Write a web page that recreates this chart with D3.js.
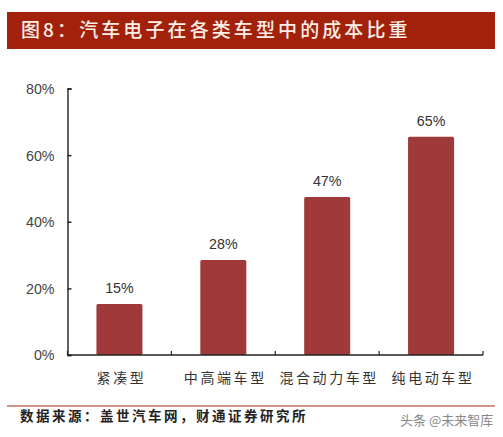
<!DOCTYPE html>
<html>
<head>
<meta charset="utf-8">
<script src="https://cdn.jsdelivr.net/npm/d3@7"></script>
<style>
  html,body{margin:0;padding:0;background:#fff;}
  svg{display:block;}
  .cn{font-family:"Noto Sans CJK SC";}
  .num{font-family:"Liberation Sans",Arial,sans-serif;}
</style>
</head>
<body>
<div id="chart"></div>
<script>
var categories = ['紧凑型','中高端车型','混合动力车型','纯电动车型'];
var shares = [15,28,47,65];
var barHeights = [15.3,28.5,47.4,65.5]; //bars run a touch above their printed label
var yTicks = [0,20,40,60,80];
var titleText = '图8：汽车电子在各类车型中的成本比重';
var sourceText = '数据来源：盖世汽车网，财通证券研究所';
var markText = '头条 @未来智库';

var W = 503, H = 437;
var m = {t:88.5,r:20,b:82,l:67.5};

var svg = d3.select('#chart').append('svg').attr('width',W).attr('height',H);

//Numbers in the reference are slightly squeezed sideways
function squeeze(sel){
  sel.attr('textLength',function(){return this.getComputedTextLength()*0.92;})
     .attr('lengthAdjust','spacingAndGlyphs');
}

//Title band
svg.append('rect').attr('x',7).attr('y',12).attr('width',488).attr('height',37).attr('fill','#a1210a');
svg.append('text').attr('class','cn')
    .attr('x',21).attr('y',37)
    .attr('fill','#fbeee6').attr('font-size',19).attr('font-weight',500)
    .attr('letter-spacing',3.1)
    .text(titleText);

//Scales
var scaleX = d3.scaleBand().domain(categories).range([m.l,W-m.r]).paddingInner(0.557).paddingOuter(0.2785);
var scaleY = d3.scaleLinear().domain([0,80]).range([H-m.b,m.t]);

//Bars
svg.selectAll('.bar').data(barHeights).enter().append('rect').attr('class','bar')
    .attr('x',function(d,i){return scaleX(categories[i]);})
    .attr('y',function(d){return scaleY(d);})
    .attr('width',scaleX.bandwidth())
    .attr('height',function(d){return scaleY(0)-scaleY(d);})
    .attr('rx',1.5)
    .attr('fill','#a03a3a');

//Value labels
svg.selectAll('.val').data(shares).enter().append('text').attr('class','val num')
    .attr('x',function(d,i){return scaleX(categories[i])+scaleX.bandwidth()/2;})
    .attr('y',function(d,i){return scaleY(barHeights[i])-11;})
    .attr('text-anchor','middle').attr('font-size',15.5).attr('fill','#333')
    .text(function(d){return d+'%';})
    .call(squeeze);

//Axis Y
var axisY = d3.axisLeft(scaleY).tickValues(yTicks).tickSize(-4).tickSizeOuter(-4).tickPadding(13)
    .tickFormat(function(d){return d+'%';});
var yNode = svg.append('g').attr('transform','translate('+m.l+',0)').call(axisY);
yNode.selectAll('text').attr('class','num').attr('font-size',15.5).attr('fill','#444').call(squeeze);
yNode.selectAll('line,path').attr('stroke','#222').attr('stroke-width',1.4);

//Axis X, ticks sit on the band edges
var edges = d3.range(categories.length+1).map(function(i){return m.l+i*scaleX.step();});
var xNode = svg.append('g').attr('transform','translate(0,'+(H-m.b)+')');
xNode.append('line').attr('x1',m.l).attr('x2',W-m.r).attr('stroke','#222').attr('stroke-width',1.4);
xNode.selectAll('.tk').data(edges).enter().append('line').attr('class','tk')
    .attr('x1',function(d){return d;}).attr('x2',function(d){return d;})
    .attr('y1',0).attr('y2',-4).attr('stroke','#222').attr('stroke-width',1.2);
xNode.selectAll('.cat').data(categories).enter().append('text').attr('class','cat cn')
    .attr('x',function(d){return scaleX(d)+scaleX.bandwidth()/2+2;})
    .attr('y',28).attr('text-anchor','middle')
    .attr('font-size',14).attr('letter-spacing',2.6).attr('fill','#333')
    .text(function(d){return d;});

//Source
svg.append('line').attr('x1',7).attr('x2',495).attr('y1',406).attr('y2',406).attr('stroke','#c4705f').attr('stroke-width',1.3);
svg.append('text').attr('class','cn')
    .attr('x',20).attr('y',421)
    .attr('font-size',13.5).attr('font-weight',700).attr('letter-spacing',2.5).attr('fill','#222')
    .text(sourceText);
svg.append('text').attr('class','cn')
    .attr('x',400).attr('y',425)
    .attr('font-size',13).attr('fill','#888')
    .text(markText);
</script>
</body>
</html>
